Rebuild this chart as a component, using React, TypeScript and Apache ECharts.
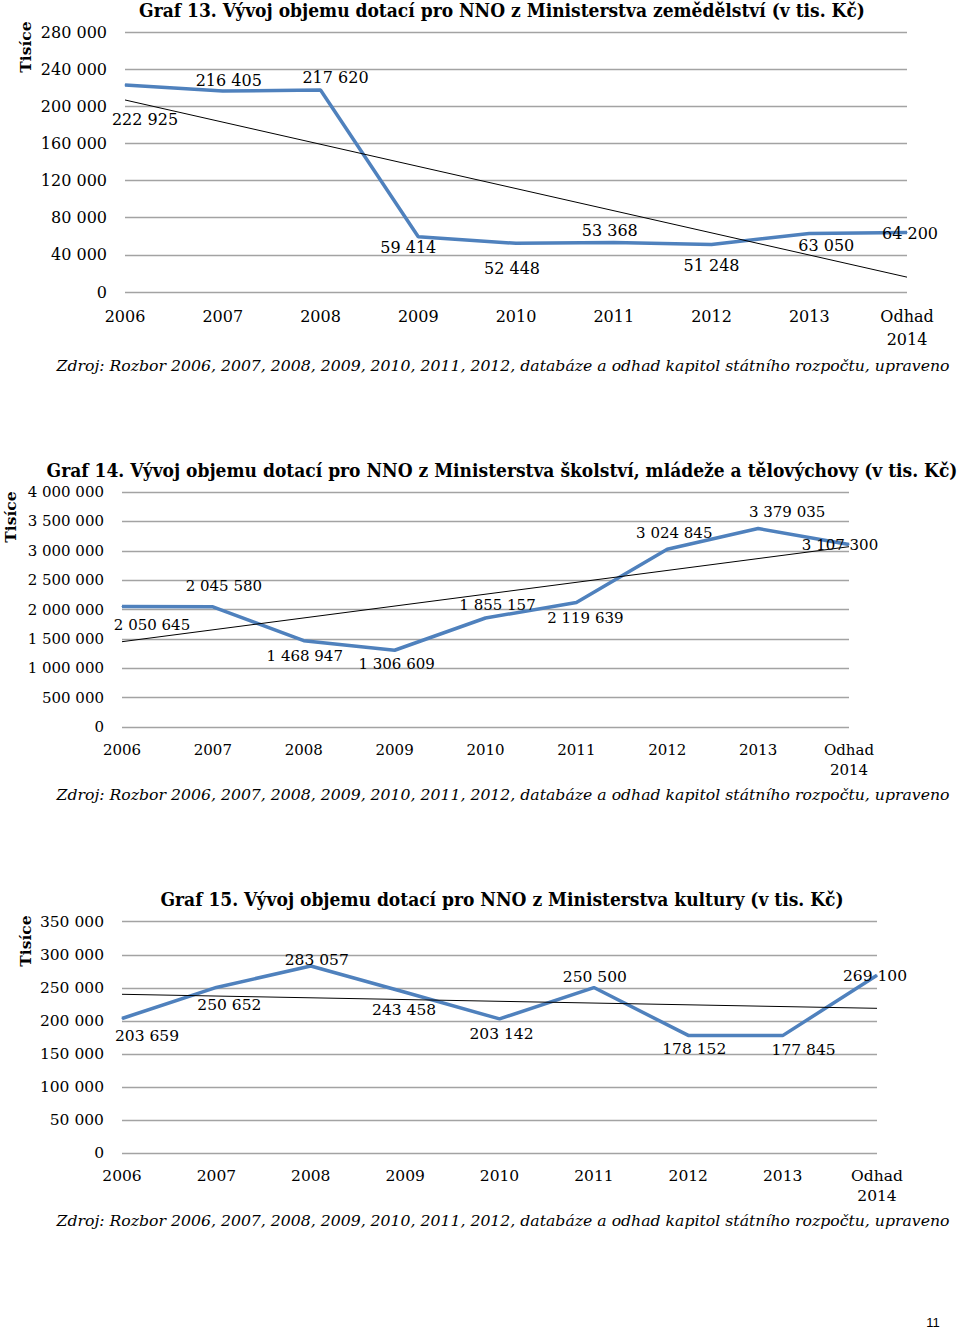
import React, { useEffect, useRef } from "react";
import * as echarts from "echarts";

const categories = ["2006", "2007", "2008", "2009", "2010", "2011", "2012", "2013", "Odhad\n2014"];

const zemedelstvi = [222925, 216405, 217620, 59414, 52448, 53368, 51248, 63050, 64200];
const zemedelstviTrend = [206800, 16000];

const skolstvi = [2050645, 2045580, 1468947, 1306609, 1855157, 2119639, 3024845, 3379035, 3107300];
const skolstviTrend = [1452000, 3069000];

const kultura = [203659, 250652, 283057, 243458, 203142, 250500, 178152, 177845, 269100];
const kulturaTrend = [240300, 219100];

const titles = [
  "Graf 13. Vývoj objemu dotací pro NNO z Ministerstva zemědělství (v tis. Kč)",
  "Graf 14. Vývoj objemu dotací pro NNO z Ministerstva školství, mládeže a tělovýchovy (v tis. Kč)",
  "Graf 15. Vývoj objemu dotací pro NNO z Ministerstva kultury (v tis. Kč)",
];
const sourceText =
  "Zdroj: Rozbor 2006, 2007, 2008, 2009, 2010, 2011, 2012, databáze a odhad kapitol státního rozpočtu, upraveno";
const axisTitle = "Tisíce";
const pageNumber = "11";

// label offsets (styling, kept apart from values)
const offsets13 = [[20, 35], [6, -11], [15, -12], [-10, 11], [-4, 25], [-4, -12], [0, 21], [17, 12], [3, 1]];
const offsets14 = [[30, 18], [11, -21], [1, 15], [2, 14], [12, -13], [9, 16], [7, -16], [29, -16], [-9, 1]];
const offsets15 = [[25, 17], [13, 18], [6, -6], [-1, 18], [2, 15], [1, -11], [6, 14], [21, 14], [-2, 1]];

const SERIF = "'DejaVu Serif', serif";
const BLUE = "#4f81bd";
const GRID = "#a3a3a3";

const fmt = (v: number) => String(Math.round(v)).replace(/\B(?=(\d{3})+(?!\d))/g, " ");

export default function App() {
  const ref = useRef<HTMLDivElement>(null);
  useEffect(() => {
    document.body.style.margin = "0";
    const chart = echarts.init(ref.current!, null, { renderer: "svg" });

    const grids = [
      { left: 125, top: 32, width: 782, height: 260 },
      { left: 122, top: 492, width: 727, height: 235 },
      { left: 122, top: 921.7, width: 755, height: 231.6 },
    ];
    const yMax = [280000, 4000000, 350000];
    const yInt = [40000, 500000, 50000];
    const fs = [16, 15, 15.5];
    const xLine = [23, 20, 20];
    const xMargin = [13, 13, 13];
    const values = [zemedelstvi, skolstvi, kultura];
    const trends = [zemedelstviTrend, skolstviTrend, kulturaTrend];
    const offs = [offsets13, offsets14, offsets15];

    const series: any[] = [];
    values.forEach((vals, gi) => {
      const tr = trends[gi];
      const trendData = categories.map((_, i) => (i === 0 ? tr[0] : i === categories.length - 1 ? tr[1] : null));
      series.push({
        type: "line",
        xAxisIndex: gi,
        yAxisIndex: gi,
        data: trendData,
        connectNulls: true,
        showSymbol: false,
        symbol: "none",
        lineStyle: { color: "#000", width: 1 },
        z: 3,
        silent: true,
      });
      series.push({
        type: "line",
        xAxisIndex: gi,
        yAxisIndex: gi,
        data: vals.map((v, i) => ({
          value: v,
          label: { offset: offs[gi][i] },
        })),
        symbol: "circle",
        symbolSize: 1,
        showSymbol: true,
        itemStyle: { color: BLUE },
        lineStyle: { color: BLUE, width: 3.5 },
        z: 2,
        label: {
          show: true,
          position: "inside",
          align: "center",
          verticalAlign: "middle",
          color: "#000",
          fontFamily: SERIF,
          fontSize: fs[gi],
          formatter: (p: any) => fmt(p.value),
        },
      });
    });

    const titleY = [10, 470, 899];
    const srcY = [365, 794, 1220];
    const tisiceXY = [[25, 47], [10, 517], [25, 941]];
    const graphics: any[] = [];
    titles.forEach((t, i) => {
      graphics.push({
        type: "text",
        x: 502,
        y: titleY[i],
        style: {
          text: t,
          fontFamily: "'DejaVu Serif Condensed', 'DejaVu Serif', serif",
          fontWeight: "bold",
          fontSize: 19,
          fill: "#000",
          textAlign: "center",
          textVerticalAlign: "middle",
        },
      });
      graphics.push({
        type: "text",
        x: 503,
        y: srcY[i],
        style: {
          text: sourceText,
          fontFamily: SERIF,
          fontStyle: "italic",
          fontSize: 15.7,
          fill: "#000",
          textAlign: "center",
          textVerticalAlign: "middle",
        },
      });
      graphics.push({
        type: "text",
        x: tisiceXY[i][0],
        y: tisiceXY[i][1],
        rotation: Math.PI / 2,
        style: {
          text: axisTitle,
          fontFamily: SERIF,
          fontWeight: "bold",
          fontSize: 15.5,
          fill: "#000",
          textAlign: "center",
          textVerticalAlign: "middle",
        },
      });
    });
    graphics.push({
      type: "text",
      x: 933,
      y: 1322,
      style: {
        text: pageNumber,
        fontFamily: "'Liberation Sans', Arial, sans-serif",
        fontSize: 13,
        fill: "#000",
        textAlign: "center",
        textVerticalAlign: "middle",
      },
    });

    chart.setOption({
      animation: false,
      backgroundColor: "#fff",
      grid: grids,
      xAxis: grids.map((_, i) => ({
        type: "category",
        gridIndex: i,
        data: categories,
        boundaryGap: false,
        axisLine: { show: false },
        axisTick: { show: false },
        axisLabel: {
          color: "#000",
          fontFamily: SERIF,
          fontSize: fs[i],
          lineHeight: xLine[i],
          margin: xMargin[i],
          interval: 0,
        },
        splitLine: { show: false },
      })),
      yAxis: grids.map((_, i) => ({
        type: "value",
        gridIndex: i,
        min: 0,
        max: yMax[i],
        interval: yInt[i],
        axisLine: { show: false },
        axisTick: { show: false },
        axisLabel: {
          color: "#000",
          fontFamily: SERIF,
          fontSize: fs[i],
          margin: 18,
          formatter: (v: number) => fmt(v),
        },
        splitLine: { show: true, lineStyle: { color: GRID, width: 1.3 } },
      })),
      series,
      graphic: graphics,
    });
    return () => chart.dispose();
  }, []);
  return <div ref={ref} style={{ width: 960, height: 1331 }} />;
}
